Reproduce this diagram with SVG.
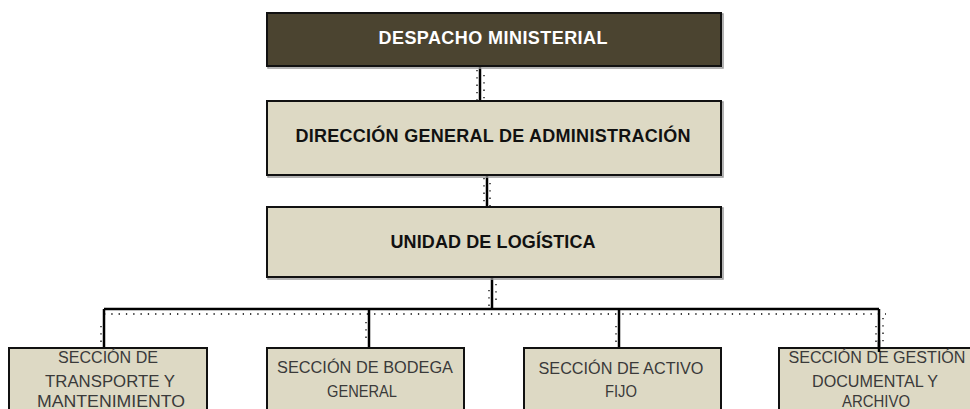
<svg xmlns="http://www.w3.org/2000/svg" width="970" height="409" viewBox="0 0 970 409">
<style>
.shadow{fill:none;stroke:#9a9a9a;stroke-width:1.5}
.box{fill:#DDD9C4;stroke:#111;stroke-width:2}
.dark{fill:#4B4430;stroke:#111;stroke-width:2}
.t1{font-family:"Liberation Sans",Arial,sans-serif;font-weight:bold;font-size:18px;text-anchor:middle}
.t2{font-family:"Liberation Sans",Arial,sans-serif;font-size:16px;fill:#3a3a3a;text-anchor:middle}
.wire{stroke:#000;stroke-width:2.5;fill:none}
.dots{stroke:#000;stroke-width:1.3;stroke-dasharray:1.3 6;fill:none}
</style>
<rect width="970" height="409" fill="#fff"/>
<g id="connectors">
<line class="wire" x1="480" y1="66" x2="480" y2="101"/>
<line class="dots" x1="477" y1="70" x2="477" y2="100"/>
<line class="dots" x1="484" y1="75" x2="484" y2="106"/>
<line class="wire" x1="487" y1="175" x2="487" y2="207"/>
<line class="dots" x1="484" y1="178" x2="484" y2="206"/>
<line class="dots" x1="490" y1="183" x2="490" y2="212"/>
<line class="wire" x1="492" y1="277" x2="492" y2="309"/>
<line class="dots" x1="489" y1="290" x2="489" y2="308"/>
<line class="dots" x1="496" y1="284" x2="496" y2="302"/>
<line class="wire" x1="104" y1="309" x2="879" y2="309"/>
<line class="dots" x1="104" y1="314" x2="886" y2="314"/>
<line class="wire" x1="104" y1="309" x2="104" y2="348"/>
<line class="dots" x1="101" y1="326" x2="101" y2="346"/>
<line class="wire" x1="369" y1="309" x2="369" y2="348"/>
<line class="dots" x1="366" y1="322" x2="366" y2="342"/>
<line class="wire" x1="619" y1="309" x2="619" y2="348"/>
<line class="dots" x1="616" y1="326" x2="616" y2="346"/>
<line class="wire" x1="879" y1="309" x2="879" y2="351"/>
<line class="dots" x1="876" y1="326" x2="876" y2="346"/>
<line class="dots" x1="883" y1="318" x2="883" y2="342"/>
</g>
<g id="despacho">
<rect class="shadow" x="268" y="14" width="455" height="54"/>
<rect class="dark" x="267" y="13" width="454" height="53"/>
<text class="t1" x="493" y="44" fill="#fff" textLength="229" lengthAdjust="spacing">DESPACHO MINISTERIAL</text>
</g>
<g id="direccion">
<rect class="shadow" x="268" y="102" width="455" height="75"/>
<rect class="box" x="267" y="101" width="454" height="74"/>
<text class="t1" x="493" y="142" fill="#111" textLength="395" lengthAdjust="spacing">DIRECCIÓN GENERAL DE ADMINISTRACIÓN</text>
</g>
<g id="unidad">
<rect class="shadow" x="268" y="208" width="455" height="71"/>
<rect class="box" x="267" y="207" width="454" height="70"/>
<text class="t1" x="493" y="248" fill="#111" textLength="205" lengthAdjust="spacing">UNIDAD DE LOGÍSTICA</text>
</g>
<g id="transporte">
<rect class="box" x="9" y="348" width="198" height="70"/>
<text class="t2" x="108" y="363" textLength="100" lengthAdjust="spacingAndGlyphs">SECCIÓN DE</text>
<text class="t2" x="110" y="387" textLength="130" lengthAdjust="spacingAndGlyphs">TRANSPORTE Y</text>
<text class="t2" x="111" y="407" textLength="148" lengthAdjust="spacingAndGlyphs">MANTENIMIENTO</text>
</g>
<g id="bodega">
<rect class="box" x="267" y="348" width="197" height="70"/>
<text class="t2" x="365" y="373" textLength="176" lengthAdjust="spacingAndGlyphs">SECCIÓN DE BODEGA</text>
<text class="t2" x="362" y="397" textLength="70" lengthAdjust="spacingAndGlyphs">GENERAL</text>
</g>
<g id="activo">
<rect class="box" x="524" y="348" width="197" height="70"/>
<text class="t2" x="621" y="374" textLength="165" lengthAdjust="spacingAndGlyphs">SECCIÓN DE ACTIVO</text>
<text class="t2" x="621" y="397" textLength="32" lengthAdjust="spacingAndGlyphs">FIJO</text>
</g>
<g id="gestion">
<rect class="box" x="779" y="348" width="200" height="70"/>
<text class="t2" x="877" y="363" textLength="177" lengthAdjust="spacingAndGlyphs">SECCIÓN DE GESTIÓN</text>
<text class="t2" x="875" y="387" textLength="126" lengthAdjust="spacingAndGlyphs">DOCUMENTAL Y</text>
<text class="t2" x="876" y="407" textLength="68" lengthAdjust="spacingAndGlyphs">ARCHIVO</text>
</g>
<line class="wire" x1="879" y1="340" x2="879" y2="352"/>
</svg>
